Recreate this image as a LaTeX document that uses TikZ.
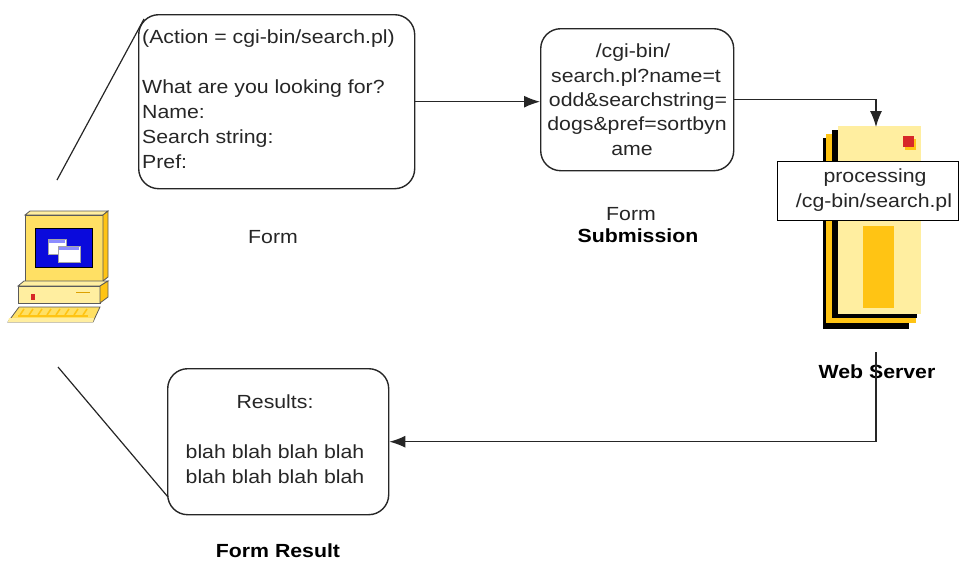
\documentclass[tikz,border=0pt]{standalone}
\usepackage{fontspec}
\setmainfont[FakeStretch=1.12]{Liberation Sans}
\usetikzlibrary{arrows.meta}

\definecolor{paleyel}{RGB}{255,238,160}
\definecolor{midyel}{RGB}{255,224,100}
\definecolor{gold}{RGB}{255,196,20}
\definecolor{darkgold}{RGB}{220,160,0}
\definecolor{scrblue}{RGB}{10,10,220}
\definecolor{ledred}{RGB}{215,40,40}
\definecolor{edge}{RGB}{90,90,90}

\begin{document}
\begin{tikzpicture}[x=1pt,y=-1pt,
  box/.style={draw=black!85, line width=1.4pt, rounded corners=20pt, inner sep=0pt},
  txt/.style={font=\fontsize{19}{25}\selectfont, inner sep=0pt, text=black!85},
  lbl/.style={font=\fontsize{19}{25}\selectfont\bfseries, inner sep=0pt},
  conn/.style={draw=black!85, line width=1.2pt},
  tip/.style={-{Latex[length=16pt,width=12pt]}}]
\useasboundingbox (0,0) rectangle (961,562);

% ---- client computer ----
% monitor
\filldraw[fill=paleyel, draw=edge, line width=0.8pt] (25,215) -- (30,211) -- (108,211) -- (103,215) -- cycle;
\filldraw[fill=midyel, draw=edge, line width=0.8pt] (25,215) rectangle (103,281);
\filldraw[fill=gold, draw=edge, line width=0.8pt] (103,215) -- (108,211) -- (108,277) -- (103,281) -- cycle;
\filldraw[fill=scrblue, draw=black, line width=1pt] (35,228) rectangle (92,267);
\filldraw[fill=white, draw=gray!70] (48,239) rectangle (66,254);
\fill[blue!45] (49,240) rectangle (65,243);
\filldraw[fill=white, draw=gray!70] (58,246) rectangle (80,262);
\fill[blue!45] (59,247) rectangle (79,250);
% base unit
\filldraw[fill=paleyel, draw=edge, line width=0.8pt] (18,286) -- (24,281) -- (108,281) -- (100,286) -- cycle;
\filldraw[fill=paleyel, draw=edge, line width=0.8pt] (18,286) rectangle (100,303);
\filldraw[fill=gold, draw=edge, line width=0.8pt] (100,286) -- (108,281) -- (108,297) -- (100,303) -- cycle;
\fill[ledred] (31,294) rectangle (35,300);
\draw[darkgold, line width=1pt] (76,292) -- (90,292);
% keyboard
\filldraw[fill=midyel, draw=edge, line width=0.8pt] (8,322) -- (19,307) -- (100,307) -- (93,322) -- cycle;
\fill[paleyel] (9,318) -- (94,318) -- (93,322) -- (8,322) -- cycle;
\foreach \k in {0,...,7}
  \draw[gold, line width=1.6pt] (24+9*\k,309) -- (20+9*\k,315);
\draw[gold, line width=1.2pt] (18,316) -- (88,316);

\coordinate (pcTop) at (57,180);
\coordinate (pcBot) at (58,367);

% ---- web server ----
\fill[black] (823,138) rectangle (909,329);
\fill[gold] (826,134) rectangle (916,323);
\fill[black] (832,130) rectangle (917,318);
\fill[paleyel] (838,126) rectangle (921,314);
\fill[gold] (905,139) rectangle (916,150);
\fill[ledred] (903,136) rectangle (914,147);
\fill[gold] (863,226) rectangle (894,308);
\coordinate (srvTop) at (876,127);
\coordinate (srvBot) at (876,352);

\node[draw=black, line width=1.2pt, fill=white, minimum width=181pt, minimum height=59pt,
      anchor=north west, inner sep=0pt] (proc) at (777,161) {};
\node[txt, anchor=base] (procA) at (875,182) {processing};
\node[txt, anchor=base] (procB) at (874,207) {/cg-bin/search.pl};

% ---- form ----
\node[box, minimum width=276pt, minimum height=174pt, anchor=north west] (form) at (138,14) {};
\node[txt, anchor=base west] (f1) at (142,43) {(Action = cgi-bin/search.pl)};
\node[txt, anchor=base west] (f2) at (142,93) {What are you looking for?};
\node[txt, anchor=base west] (f3) at (142,118) {Name:};
\node[txt, anchor=base west] (f4) at (142,143) {Search string:};
\node[txt, anchor=base west] (f5) at (142,168) {Pref:};
\node[txt, anchor=base] (formLbl) at (273,243) {Form};

% ---- submission ----
\node[box, minimum width=193pt, minimum height=142pt, anchor=north west] (sub) at (540,28) {};
\node[txt, anchor=base] (s1) at (633,57) {/cgi-bin/};
\node[txt, anchor=base] (s2) at (636,82) {search.pl?name=t};
\node[txt, anchor=base] (s3) at (638,106) {odd\&searchstring=};
\node[txt, anchor=base] (s4) at (637,130) {dogs\&pref=sortbyn};
\node[txt, anchor=base] (s5) at (632,155) {ame};
\node[txt, anchor=base] (subLblA) at (631,220) {Form};
\node[lbl, anchor=base] (subLblB) at (638,242) {Submission};

% ---- result ----
\node[box, minimum width=221pt, minimum height=146pt, anchor=north west] (res) at (167,368) {};
\node[txt, anchor=base] (r1) at (275,408) {Results:};
\node[txt, anchor=base] (r2) at (275,458) {blah blah blah blah};
\node[txt, anchor=base] (r3) at (275,483) {blah blah blah blah};
\node[lbl, anchor=base] (resLbl) at (278,557) {Form Result};

\node[lbl, anchor=base] (srvLbl) at (877,378) {Web Server};

% ---- connectors ----
\draw[conn] (pcTop) -- (144,19);
\draw[conn] (pcBot) -- (168,497);
\draw[conn, tip] (form.east) -- (form.east -| sub.west);
\draw[conn, tip] (sub.east) -| (srvTop);
\draw[conn, tip] (srvBot) |- (res.east);
\end{tikzpicture}
\end{document}
